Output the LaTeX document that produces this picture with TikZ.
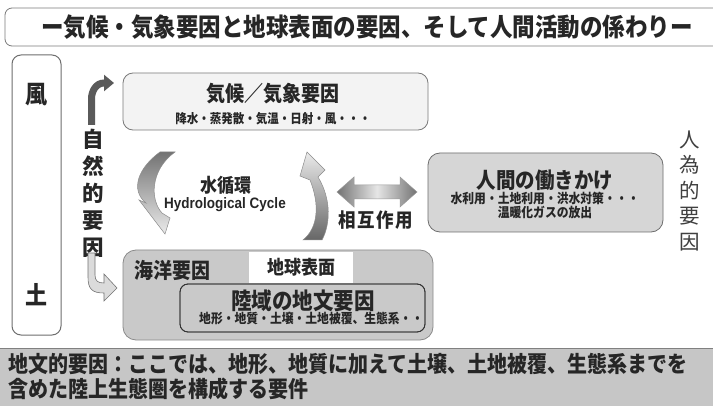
\documentclass[tikz,border=0pt]{standalone}
\usepackage{fontspec}
\usepackage{graphicx}
\setmainfont{Noto Sans CJK JP}
\newfontfamily\latf{Liberation Sans}
\usetikzlibrary{arrows.meta}
\definecolor{txtc}{HTML}{262626}
\definecolor{climfill}{HTML}{F3F3F3}
\definecolor{climdraw}{HTML}{7A7A7A}
\definecolor{humfill}{HTML}{D6D6D6}
\definecolor{humdraw}{HTML}{6E6E6E}
\definecolor{surffill}{HTML}{C9C9C9}
\definecolor{surfdraw}{HTML}{8A8A8A}
\definecolor{landdraw}{HTML}{333333}
\definecolor{botfill}{HTML}{C6C6C6}
\definecolor{darkarrow}{HTML}{5A5A5A}
\newcommand\myfs[2]{\fontsize{#1}{#2}\selectfont}
\newcommand\tallt[1]{\scalebox{1}[1.12]{#1}}
\tikzset{
  rbox/.style={rounded corners=#1, line width=0.8pt, inner sep=0pt},
  txt/.style={text=txtc, inner sep=0pt, font=\myfs{#1}{#1}\bfseries},
  vtxt/.style={text=txtc, inner sep=0pt, align=center},
}
\begin{document}
\begin{tikzpicture}[x=1pt,y=1pt]
\useasboundingbox (0,0) rectangle (713,405);
\fill[white] (0,0) rectangle (713,405);

% title
\draw[rbox=7pt, draw=climdraw] (5,359) rectangle (745,397);
\node[txt=22.5] (title) at (367,378) {\tallt{ー気候・気象要因と地球表面の要因、そして人間活動の係わりー}};

% left box
\draw[rbox=9pt, draw=humdraw, line width=1pt] (12,70) rectangle (61,350);
\node[txt=22] (kaze) at (37,310) {\tallt{風}};
\node[txt=22] (tsuchi) at (37,110) {\tallt{土}};

% natural factors
\node[vtxt, font=\myfs{21.5}{27}\bfseries] (nat) at (93,212) {自\\然\\的\\要\\因};
\draw[darkarrow, line width=7pt, -{Triangle[length=10pt,width=16pt]}]
  (91.5,280) -- (91.5,306) to[out=90,in=180] (104,322) -- (114,322);
\draw[fill=black!14, draw=black!55, line width=0.6pt]
  (88,152) -- (88,128) .. controls (88,116) and (92,112) .. (104,112)
  -- (104,104) -- (117,117) -- (104,131) -- (104,122)
  .. controls (98,122) and (95,124) .. (95,130) -- (95,152) -- cycle;

% climate box
\node[rbox=10pt, draw=climdraw, fill=climfill, minimum width=305pt, minimum height=57pt] (clim) at (275.5,303.5) {};
\node[txt=19] (climt) at (273,311) {\tallt{気候／気象要因}};
\node[txt=11.5] (clims) at (273,286) {\tallt{降水・蒸発散・気温・日射・風・・・}};

% hydrological cycle arrows
\draw[top color=black!55, bottom color=black!8, draw=black!45, line width=0.5pt]
  (160,253) .. controls (138,237) and (130,215) .. (146,202) -- (139,205)
  -- (165,171) -- (170,187) -- (162,192)
  .. controls (150,205) and (150,235) .. (175,253) -- cycle;
\draw[top color=black!8, bottom color=black!60, draw=black!45, line width=0.5pt]
  (303,165) .. controls (318,177) and (320,200) .. (310,225) -- (300,229)
  -- (307,253) -- (325,235) -- (318,228)
  .. controls (332,205) and (330,180) .. (322,165) -- cycle;
\node[txt=17] (hc1) at (226,220) {\tallt{水循環}};
\node[txt=13.5, font=\latf\bfseries\myfs{13.5}{13.5}] (hc2) at (225,200) {\tallt{Hydrological Cycle}};

% interaction double arrow
\draw[left color=black!55, right color=black!55, middle color=black!10, draw=black!40, line width=0.5pt]
  (337,213) -- (354,228) -- (354,220) -- (400,220) -- (400,228) -- (417,213)
  -- (400,198) -- (400,206) -- (354,206) -- (354,198) -- cycle;
\node[txt=17.5] (inter) at (376,185) {\tallt{相\hspace{1.5pt}互\hspace{1.5pt}作\hspace{1.5pt}用}};

% human box
\node[rbox=12pt, draw=humdraw, fill=humfill, minimum width=235pt, minimum height=79pt] (hum) at (545.5,212.5) {};
\node[txt=19.5] (humt) at (545,225) {\tallt{人間の働きかけ}};
\node[txt=11.8] (hums1) at (545,207) {\tallt{水利用・土地利用・洪水対策・・・}};
\node[txt=11.8] (hums2) at (545,193) {\tallt{温暖化ガスの放出}};

% anthropogenic factors
\node[vtxt, font=\myfs{20.5}{25.5}, text=black!75] (anth) at (690,214) {人\\為\\的\\要\\因};

% surface box
\node[rbox=13pt, draw=surfdraw, fill=surffill, minimum width=310pt, minimum height=90pt] (surf) at (278,110) {};
\node[txt=19, anchor=west] (ocean) at (134,135) {\tallt{海洋要因}};
\node[fill=white, minimum width=104pt, minimum height=31pt, inner sep=0pt] (eslab) at (301,137.5) {};
\node[txt=17] (est) at (301,137.5) {\tallt{地球表面}};
\node[rbox=8pt, draw=landdraw, fill=surffill, minimum width=245pt, minimum height=48pt] (land) at (302.5,97) {};
\node[txt=20.5] (landt) at (303,104) {\tallt{陸域の地文要因}};
\begin{scope}
\clip[rounded corners=8pt] (180,73) rectangle (425,121);
\node[txt=11.8, anchor=west] (lands) at (199,87) {\tallt{地形・地質・土壌・土地被覆、生態系・・}};
\end{scope}
\draw[rbox=8pt, draw=landdraw] (180,73) rectangle (425,121);

% bottom box
\draw[fill=botfill, draw=black!50, line width=0.8pt] (-2,-2) rectangle (715,57);
\node[txt=20, anchor=west] (b1) at (8,41) {\tallt{地文的要因：ここでは、地形、地質に加えて土壌、土地被覆、生態系までを}};
\node[txt=20, anchor=west] (b2) at (8,16) {\tallt{含めた陸上生態圏を構成する要件}};
\end{tikzpicture}
\end{document}
